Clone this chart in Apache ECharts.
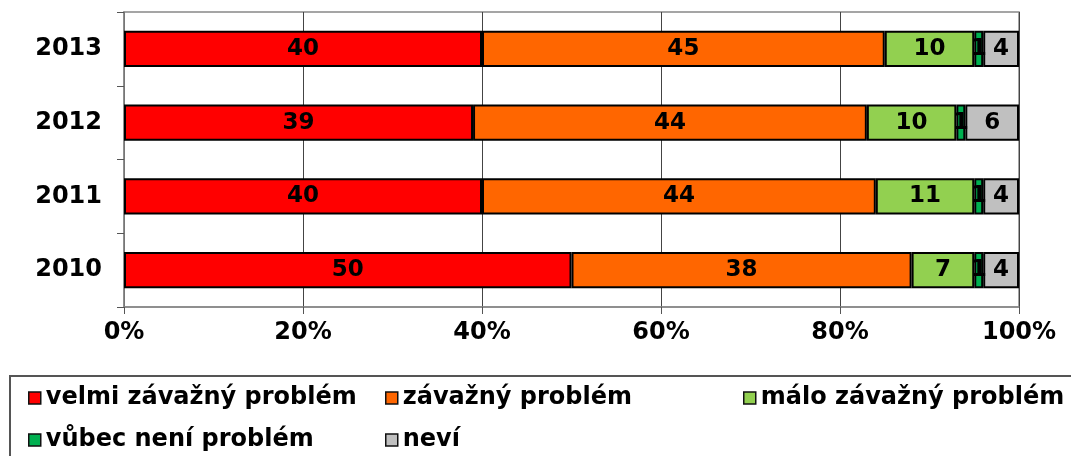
<!DOCTYPE html>
<html><head><meta charset="utf-8">
<script src="https://cdn.jsdelivr.net/npm/echarts@6/dist/echarts.min.js"></script>
<style>html,body{margin:0;padding:0;background:#fff}#c{width:1071px;height:456px}</style>
</head><body><div id="c"></div>
<script>
const categories = ['2010', '2011', '2012', '2013'];
const seriesNames = ['velmi závažný problém', 'závažný problém', 'málo závažný problém', 'vůbec není problém', 'neví'];
const velmiZavazny = [50, 40, 39, 40];
const zavazny = [38, 44, 44, 45];
const maloZavazny = [7, 11, 10, 10];
const vubecNeni = [1, 1, 1, 1];
const nevi = [4, 4, 6, 4];
const xTicks = [0, 20, 40, 60, 80, 100];

const colors = ['#FF0000', '#FF6600', '#92D050', '#00B050', '#C0C0C0'];
const values = [velmiZavazny, zavazny, maloZavazny, vubecNeni, nevi];
const FONT = 'DejaVu Sans';

const series = seriesNames.map((n, i) => ({
  name: n, type: 'bar', stack: 'total', barWidth: '49%',
  data: values[i],
  itemStyle: { color: colors[i], borderColor: '#000', borderWidth: 2 },
  label: { show: true, position: 'inside', color: '#000', fontFamily: FONT, fontWeight: 'bold', fontSize: 23 }
}));

const legendPos = [[28, 386], [385, 386], [743, 386], [28, 428], [385, 428]];
const legends = seriesNames.map((n, i) => ({
  data: [n], left: legendPos[i][0], top: legendPos[i][1], orient: 'horizontal',
  itemWidth: 12, itemHeight: 12, itemGap: 0, padding: 0,
  icon: 'rect',
  itemStyle: { borderColor: '#111', borderWidth: 1.5 },
  textStyle: { color: '#000', fontFamily: FONT, fontWeight: 'bold', fontSize: 24 },
  selectedMode: false
}));

const chart = echarts.init(document.getElementById('c'), null, { renderer: 'canvas' });
chart.setOption({
  animation: false,
  backgroundColor: '#fff',
  grid: { left: 124, right: 52, top: 12, bottom: 149, show: true, borderColor: '#888', borderWidth: 1.5, backgroundColor: 'transparent' },
  xAxis: {
    type: 'value', min: xTicks[0], max: xTicks[xTicks.length - 1], interval: 20,
    axisLine: { show: true, lineStyle: { color: '#888', width: 1.5 } },
    axisTick: { show: true, length: 7, lineStyle: { color: '#555' } },
    splitLine: { show: true, lineStyle: { color: '#444', width: 1 } },
    axisLabel: { formatter: '{value}%', color: '#000', fontFamily: FONT, fontWeight: 'bold', fontSize: 24, margin: 14 }
  },
  yAxis: {
    type: 'category', data: categories,
    axisLine: { show: true, lineStyle: { color: '#888', width: 1.5 } },
    axisTick: { show: true, length: 7, lineStyle: { color: '#555' } },
    axisLabel: { color: '#000', fontFamily: FONT, fontWeight: 'bold', fontSize: 24, margin: 22 }
  },
  legend: legends,
  graphic: [{ type: 'rect', shape: { x: 10, y: 376, width: 1200, height: 150 }, style: { fill: 'none', stroke: '#555', lineWidth: 2 }, silent: true }],
  series: series
});
</script></body></html>
